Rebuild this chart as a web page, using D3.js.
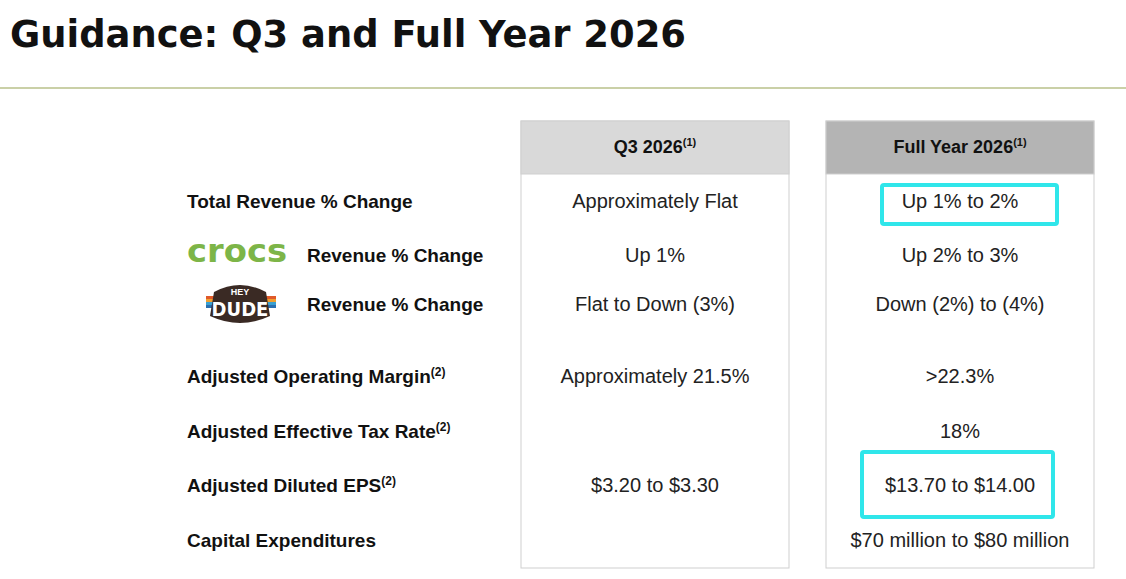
<!DOCTYPE html><html><head><meta charset="utf-8">
<script src="https://cdn.jsdelivr.net/npm/d3@7"></script>
<style>body{margin:0;background:#fff}</style></head><body><svg id="c" width="1126" height="579"></svg>
<script>
const columns=["Q3 2026","Full Year 2026"];
const rowLabels=["Total Revenue % Change","Revenue % Change","Revenue % Change","Adjusted Operating Margin","Adjusted Effective Tax Rate","Adjusted Diluted EPS","Capital Expenditures"];
const rowSup=["","","","(2)","(2)","(2)",""];
const q3Values=["Approximately Flat","Up 1%","Flat to Down (3%)","Approximately 21.5%","","$3.20 to $3.30",""];
const fyValues=["Up 1% to 2%","Up 2% to 3%","Down (2%) to (4%)",">22.3%","18%","$13.70 to $14.00","$70 million to $80 million"];
const highlighted=[0,5];
const rowY=[201,255,304,376,431,485,540];
const svg=d3.select("#c");
const F="'Liberation Sans','DejaVu Sans',sans-serif";
svg.append("text").attr("x",10).attr("y",47).attr("font-family","'DejaVu Sans',sans-serif").attr("font-weight","bold").attr("font-size",37).attr("fill","#111").attr("textLength",676).attr("lengthAdjust","spacingAndGlyphs").text("Guidance: Q3 and Full Year 2026");
svg.append("line").attr("x1",0).attr("x2",1126).attr("y1",88).attr("y2",88).attr("stroke","#b9c08a").attr("stroke-width",1.5);
const colX=[521,826],colW=268,hdrFill=["#d9d9d9","#b4b4b4"];
columns.forEach((c,i)=>{
 svg.append("rect").attr("x",colX[i]).attr("y",121).attr("width",colW).attr("height",447).attr("fill","#fff").attr("stroke","#cfcfcf");
 svg.append("rect").attr("x",colX[i]).attr("y",121).attr("width",colW).attr("height",53).attr("fill",hdrFill[i]).attr("stroke","#cfcfcf");
 const t=svg.append("text").attr("x",colX[i]+colW/2).attr("y",153).attr("text-anchor","middle").attr("font-family",F).attr("font-weight","bold").attr("font-size",18).attr("fill","#111");
 t.append("tspan").text(c);t.append("tspan").attr("font-size",11).attr("dy",-7).text("(1)");
 const vals=i?fyValues:q3Values;
 vals.forEach((v,r)=>svg.append("text").attr("x",colX[i]+colW/2).attr("y",rowY[r]+7).attr("text-anchor","middle").attr("font-family",F).attr("font-size",20).attr("fill","#222").text(v));
});
highlighted.forEach(r=>{
 const b=r===0?[882,185,175,39]:[862,452,191,65];
 svg.append("rect").attr("x",b[0]).attr("y",b[1]).attr("width",b[2]).attr("height",b[3]).attr("fill","none").attr("stroke","#2fe6ea").attr("stroke-width",4).attr("rx",2);
});
rowLabels.forEach((l,r)=>{
 const x=(r===1||r===2)?307:187;
 const t=svg.append("text").attr("x",x).attr("y",rowY[r]+7).attr("font-family",F).attr("font-weight","bold").attr("font-size",19).attr("fill","#111");
 t.append("tspan").text(l);
 if(rowSup[r])t.append("tspan").attr("font-size",12).attr("dy",-7).text(rowSup[r]);
});
svg.append("text").attr("x",187).attr("y",262).attr("font-family","'DejaVu Sans',sans-serif").attr("font-weight","bold").attr("font-size",32).attr("fill","#7db548").attr("textLength",100).attr("lengthAdjust","spacingAndGlyphs").text("crocs");
const g=svg.append("g");
["#e05a2a","#f0a030","#3aa0d0","#2a6fb0"].forEach((c,i)=>g.append("rect").attr("x",206).attr("y",296+i*3).attr("width",70).attr("height",3).attr("fill",c));
g.append("path").attr("d","M214,292 Q240,278 266,292 L270,316 Q240,330 210,316 Z").attr("fill","#3a2a24");
g.append("text").attr("x",240).attr("y",295).attr("text-anchor","middle").attr("font-family",F).attr("font-weight","bold").attr("font-size",9).attr("fill","#fff").text("HEY");
g.append("text").attr("x",240).attr("y",316).attr("text-anchor","middle").attr("font-family","'DejaVu Sans Condensed',sans-serif").attr("font-weight","bold").attr("font-size",20).attr("fill","#fff").text("DUDE");
</script></body></html>
